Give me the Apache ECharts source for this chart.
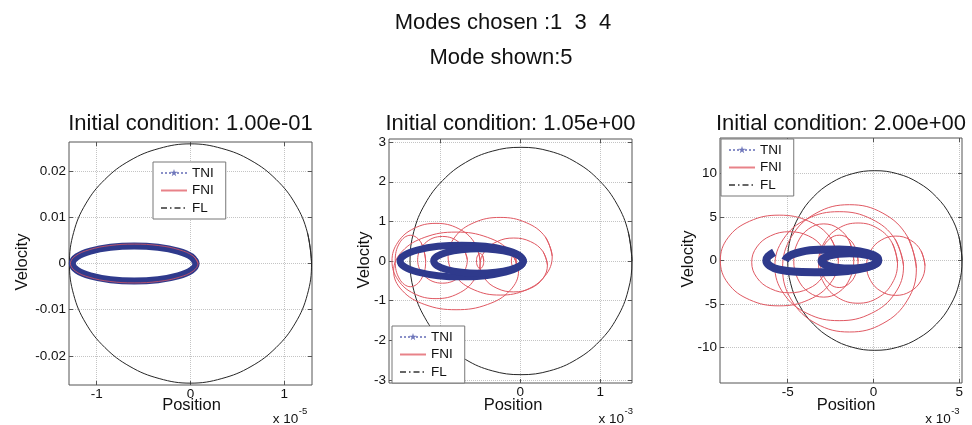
<!DOCTYPE html>
<html><head><meta charset="utf-8">
<script src="https://cdn.jsdelivr.net/npm/echarts@6/dist/echarts.min.js"></script>
<style>html,body{margin:0;padding:0;background:#fff}#c{width:972px;height:425px}</style>
</head><body><div id="c"></div>
<script>
// ---------------- DATA (x in units of 1e-5 / 1e-3 as shown on the axes) ----------------
const suptitleLines = ['Modes chosen :1  3  4', 'Mode shown:5'];
const panelTitles = ['Initial condition: 1.00e-01', 'Initial condition: 1.05e+00', 'Initial condition: 2.00e+00'];
const xExponents = ['-5', '-3', '-3'];
const legendNames = ['TNI', 'FNI', 'FL'];

// axis ranges
const p1XRange = [-1.295, 1.295], p1YRange = [-0.0263, 0.0263];
const p2XRange = [-1.6375, 1.396], p2YRange = [-3.08, 3.08];
const p3XRange = [-8.95, 5.16],  p3YRange = [-14.05, 14.05];
// ticks and labels
const p1XTicks = [-1, 0, 1], p1XLabels = [-1, 0, 1];
const p1YTicks = [-0.02, -0.01, 0, 0.01, 0.02];
const p2XTicks = [-1, 0, 1], p2XLabels = [0, 1];
const p2YTicks = [-3, -2, -1, 0, 1, 2, 3];
const p3XTicks = [-5, 0, 5], p3XLabels = [-5, 0, 5];
const p3YTicks = [-10, -5, 0, 5, 10];

// Panel 1
const p1Circle = [[1.29,0],[1.246,0.0067],[1.117,0.0129],[0.912,0.0182],[0.645,0.0223],[0.334,0.0249],[0,0.0259],[-0.334,0.0249],[-0.645,0.0223],[-0.912,0.0182],[-1.117,0.0129],[-1.246,0.0067],[-1.29,0],[-1.246,-0.0067],[-1.117,-0.0129],[-0.912,-0.0182],[-0.645,-0.0223],[-0.334,-0.0249],[0,-0.0259],[0.334,-0.0249],[0.645,-0.0223],[0.912,-0.0182],[1.117,-0.0129],[1.246,-0.0067],[1.29,0],[1.246,0.0067]];
const p1TNI = [[0.06,0],[0.01,0.00146],[-0.133,0.00269],[-0.347,0.00351],[-0.6,0.0038],[-0.853,0.00351],[-1.067,0.00269],[-1.21,0.00146],[-1.26,0],[-1.21,-0.00146],[-1.067,-0.00269],[-0.853,-0.00351],[-0.6,-0.0038],[-0.347,-0.00351],[-0.133,-0.00269],[0.01,-0.00146],[0.06,0],[0.01,0.00146]];
const p1FNI = [[0.08,0],[0.029,0.00161],[-0.12,0.00297],[-0.34,0.00388],[-0.6,0.0042],[-0.86,0.00388],[-1.08,0.00297],[-1.229,0.00161],[-1.28,0],[-1.229,-0.00161],[-1.08,-0.00297],[-0.86,-0.00388],[-0.6,-0.0042],[-0.34,-0.00388],[-0.12,-0.00297],[0.029,-0.00161],[0.08,0],[0.029,0.00161]];

// Panel 2
const p2Circle = [[1.395,0],[1.348,0.743],[1.209,1.435],[0.989,2.029],[0.703,2.485],[0.369,2.772],[0.01,2.87],[-0.349,2.772],[-0.683,2.485],[-0.969,2.029],[-1.189,1.435],[-1.328,0.743],[-1.375,0],[-1.328,-0.743],[-1.189,-1.435],[-0.969,-2.029],[-0.683,-2.485],[-0.349,-2.772],[0.01,-2.87],[0.369,-2.772],[0.703,-2.485],[0.989,-2.029],[1.209,-1.435],[1.348,-0.743],[1.395,0],[1.348,0.743]];
const p2TNIOuter = [[0.04,0],[-0.019,0.153],[-0.186,0.283],[-0.435,0.37],[-0.73,0.4],[-1.025,0.37],[-1.274,0.283],[-1.441,0.153],[-1.5,0],[-1.441,-0.153],[-1.274,-0.283],[-1.025,-0.37],[-0.73,-0.4],[-0.435,-0.37],[-0.186,-0.283],[-0.019,-0.153],[0.04,0],[-0.019,0.153]];
const p2TNIInner = [[0.04,0],[-0.003,0.119],[-0.124,0.219],[-0.306,0.286],[-0.52,0.31],[-0.734,0.286],[-0.916,0.219],[-1.037,0.119],[-1.08,0],[-1.037,-0.119],[-0.916,-0.219],[-0.734,-0.286],[-0.52,-0.31],[-0.306,-0.286],[-0.124,-0.219],[-0.003,-0.119],[0.04,0],[-0.003,0.119]];
const p2FNILoopA = [[0.40,0.12],[0.313,0.61],[0.075,0.969],[-0.25,1.10],[-0.575,0.969],[-0.813,0.61],[-0.90,0.12],[-0.813,-0.37],[-0.575,-0.729],[-0.25,-0.86],[0.075,-0.729],[0.313,-0.37],[0.40,0.12],[0.313,0.61]];
const p2FNILoopB = [[-0.02,-0.25],[-0.125,0.24],[-0.41,0.599],[-0.8,0.73],[-1.19,0.599],[-1.475,0.24],[-1.58,-0.25],[-1.475,-0.74],[-1.19,-1.099],[-0.8,-1.23],[-0.41,-1.099],[-0.125,-0.74],[-0.02,-0.25],[-0.125,0.24]];
const p2FNILoopC = [[-0.5,0],[-0.574,0.475],[-0.775,0.823],[-1.05,0.95],[-1.325,0.823],[-1.526,0.475],[-1.6,0],[-1.526,-0.475],[-1.325,-0.823],[-1.05,-0.95],[-0.775,-0.823],[-0.574,-0.475],[-0.5,0],[-0.574,0.475]];
const p2FNILoopD = [[-1.18,0],[-1.236,0.46],[-1.37,0.65],[-1.504,0.46],[-1.56,0],[-1.504,-0.46],[-1.37,-0.65],[-1.236,-0.46],[-1.18,0],[-1.236,0.46]];
const p2FNILoopE = [[-0.66,0.03],[-0.751,0.447],[-0.97,0.62],[-1.189,0.447],[-1.28,0.03],[-1.189,-0.387],[-0.97,-0.56],[-0.751,-0.387],[-0.66,0.03],[-0.751,0.447]];
const p2FNILoopF = [[-0.455,0],[-0.468,0.134],[-0.5,0.19],[-0.532,0.134],[-0.545,0],[-0.532,-0.134],[-0.5,-0.19],[-0.468,-0.134],[-0.455,0],[-0.468,0.134]];
const p2FNILoopG = [[-0.05,0],[-0.059,0.106],[-0.08,0.15],[-0.101,0.106],[-0.11,0],[-0.101,-0.106],[-0.08,-0.15],[-0.059,-0.106],[-0.05,0],[-0.059,0.106]];
const p2FNILoopH = [[0.34,-0.1],[0.284,0.24],[0.13,0.489],[-0.08,0.58],[-0.29,0.489],[-0.444,0.24],[-0.5,-0.1],[-0.444,-0.44],[-0.29,-0.689],[-0.08,-0.78],[0.13,-0.689],[0.284,-0.44],[0.34,-0.1],[0.284,0.24]];

// Panel 3
const p3Circle = [[5.16,0],[4.987,2.668],[4.479,5.15],[3.672,7.282],[2.62,8.92],[1.396,9.95],[0.08,10.3],[-1.236,9.95],[-2.46,8.92],[-3.512,7.282],[-4.319,5.15],[-4.827,2.668],[-5.0,0],[-4.827,-2.668],[-4.319,-5.15],[-3.512,-7.282],[-2.46,-8.92],[-1.236,-9.95],[0.08,-10.3],[1.396,-9.95],[2.62,-8.92],[3.672,-7.282],[4.479,-5.15],[4.987,-2.668],[5.16,0],[4.987,2.668]];
const p3TNIOuter = [[-5.8,0.95],[-6.15,0.45],[-6.25,0],[-6.05,-0.6],[-5.5,-1.05],[-4.5,-1.3],[-3.0,-1.35],[-1.5,-1.2],[-0.4,-0.8],[0.2,-0.3],[0.28,0.1],[0.0,0.6],[-0.8,1.05],[-2.0,1.25],[-3.5,1.2],[-4.5,0.85],[-5.0,0.4],[-5.15,0.0]];
const p3TNIInner = [[0.23,-0.05],[0.106,0.287],[-0.248,0.572],[-0.776,0.763],[-1.4,0.83],[-2.024,0.763],[-2.552,0.572],[-2.906,0.287],[-3.03,-0.05],[-2.906,-0.387],[-2.552,-0.672],[-2.024,-0.863],[-1.4,-0.93],[-0.776,-0.863],[-0.248,-0.672],[0.106,-0.387],[0.23,-0.05],[0.106,0.287]];
const p3FNILoopA = [[-2.05,0],[-2.512,2.6],[-3.775,4.503],[-5.5,5.2],[-7.225,4.503],[-8.488,2.6],[-8.93,0],[-8.488,-2.6],[-7.225,-4.503],[-5.5,-5.2],[-3.775,-4.503],[-2.512,-2.6],[-2.05,0],[-2.512,2.6]];
const p3FNILoopB = [[-2.7,-0.2],[-2.995,1.55],[-3.8,2.831],[-4.9,3.3],[-6.0,2.831],[-6.805,1.55],[-7.1,-0.2],[-6.805,-1.95],[-6.0,-3.231],[-4.9,-3.7],[-3.8,-3.231],[-2.995,-1.95],[-2.7,-0.2],[-2.995,1.55]];
const p3FNILoopC = [[-1.15,0],[-1.384,2.1],[-2.025,3.637],[-2.9,4.2],[-3.775,3.637],[-4.416,2.1],[-4.65,0],[-4.416,-2.1],[-3.775,-3.637],[-2.9,-4.2],[-2.025,-3.637],[-1.384,-2.1],[-1.15,0],[-1.384,2.1]];
const p3FNILoopD = [[-0.9,-0.1],[-1.047,1.4],[-1.45,2.498],[-2.0,2.9],[-2.55,2.498],[-2.953,1.4],[-3.1,-0.1],[-2.953,-1.6],[-2.55,-2.698],[-2.0,-3.1],[-1.45,-2.698],[-1.047,-1.6],[-0.9,-0.1],[-1.047,1.4]];
const p3FNILoopE = [[1.4,-0.3],[1.092,2.0],[0.25,3.684],[-0.9,4.3],[-2.05,3.684],[-2.892,2.0],[-3.2,-0.3],[-2.892,-2.6],[-2.05,-4.284],[-0.9,-4.9],[0.25,-4.284],[1.092,-2.6],[1.4,-0.3],[1.092,2.0]];
const p3FNILoopF = [[1.75,-0.65],[1.248,2.475],[-0.125,4.763],[-2.0,5.6],[-3.875,4.763],[-5.248,2.475],[-5.75,-0.65],[-5.248,-3.775],[-3.875,-6.063],[-2.0,-6.9],[-0.125,-6.063],[1.248,-3.775],[1.75,-0.65],[1.248,2.475]];
const p3FNILoopG = [[2.5,-0.9],[1.977,2.75],[0.55,5.422],[-1.4,6.4],[-3.35,5.422],[-4.777,2.75],[-5.3,-0.9],[-4.777,-4.55],[-3.35,-7.222],[-1.4,-8.2],[0.55,-7.222],[1.977,-4.55],[2.5,-0.9],[1.977,2.75]];
const p3FNILoopH = [[3.0,-0.6],[2.772,1.1],[2.15,2.344],[1.3,2.8],[0.45,2.344],[-0.172,1.1],[-0.4,-0.6],[-0.172,-2.3],[0.45,-3.544],[1.3,-4.0],[2.15,-3.544],[2.772,-2.3],[3.0,-0.6],[2.772,1.1]];

// ---------------- STYLE / LAYOUT ----------------
const FONT = '"Liberation Sans", Arial, Helvetica, sans-serif';
const BLUE = '#2f3a8c', RED = '#e05862', BLACK = '#262626';
// star glyph, padded with empty move-to points so it draws small inside the legend icon box
const STAR = 'path://M-22,-22 M122,122 M50,0 L61,35 L98,35 L68,57 L79,91 L50,70 L21,91 L32,57 L2,35 L39,35 Z';
const grids = [
  {left: 69, top: 142, width: 243, height: 243},
  {left: 389, top: 139, width: 243, height: 244},
  {left: 720, top: 138, width: 242, height: 245}
];
const legendPos = [{left: 153, top: 162}, {left: 392, top: 326}, {left: 721, top: 139}];

function xAxis(gi, range, ticks, labels, top) {
  return {
    type: 'value', gridIndex: gi, position: top ? 'top' : 'bottom', min: range[0], max: range[1],
    axisLine: {show: false, onZero: false},
    axisTick: {show: true, inside: true, length: 4, customValues: ticks, lineStyle: {color: '#555'}},
    axisLabel: top ? {show: false} : {show: true, customValues: labels, margin: 2, fontSize: 13.5,
      fontFamily: FONT, color: '#111', formatter: v => String(v)},
    splitLine: {show: !top, lineStyle: {color: '#c4c4c4', type: 'dotted', width: 1}}
  };
}
function yAxis(gi, range, ticks, labels, right) {
  return {
    type: 'value', gridIndex: gi, position: right ? 'right' : 'left', min: range[0], max: range[1],
    axisLine: {show: false, onZero: false},
    axisTick: {show: true, inside: true, length: 4, customValues: ticks, lineStyle: {color: '#555'}},
    axisLabel: right ? {show: false} : {show: true, customValues: labels, margin: 3, fontSize: 13.5,
      fontFamily: FONT, color: '#111', formatter: v => String(v)},
    splitLine: {show: !right, lineStyle: {color: '#c4c4c4', type: 'dotted', width: 1}}
  };
}
function path(name, data, gi, color, width, extra) {
  return Object.assign({
    type: 'line', name: name, data: data, xAxisIndex: gi, yAxisIndex: gi,
    smooth: 0.4, symbol: 'none', showSymbol: false, animation: false, silent: true,
    lineStyle: {color: color, width: width}, itemStyle: {color: color}
  }, extra || {});
}

const series = [];
// legend entry series (no marks of their own)
series.push({type: 'line', name: 'TNI', data: [], xAxisIndex: 0, yAxisIndex: 0, symbol: STAR, symbolSize: 8,
  lineStyle: {color: '#8a90c8', width: 1, type: 'dotted'}, itemStyle: {color: '#6f77bb'}, animation: false});
series.push({type: 'line', name: 'FL', data: [], xAxisIndex: 0, yAxisIndex: 0, symbol: 'none',
  lineStyle: {color: '#666', width: 1, type: [6, 3, 1.5, 3]}, itemStyle: {color: '#666'}, animation: false});
// panel 1
series.push(path('circle1', p1Circle, 0, BLACK, 1));
series.push(path('TNI band 1', p1TNI, 0, BLUE, 7));
series.push(path('FNI', p1FNI, 0, RED, 1, {lineStyle: {color: RED, width: 1, opacity: 0.75}}));
// panel 2
series.push(path('circle2', p2Circle, 1, BLACK, 1));
[p2FNILoopA, p2FNILoopB, p2FNILoopC, p2FNILoopD, p2FNILoopE, p2FNILoopF, p2FNILoopG, p2FNILoopH]
  .forEach(d => series.push(path('FNI', d, 1, RED, 1)));
series.push(path('TNI band 2a', p2TNIOuter, 1, BLUE, 7));
series.push(path('TNI band 2b', p2TNIInner, 1, BLUE, 7));
// panel 3
series.push(path('circle3', p3Circle, 2, BLACK, 1));
[p3FNILoopA, p3FNILoopB, p3FNILoopC, p3FNILoopD, p3FNILoopE, p3FNILoopF, p3FNILoopG, p3FNILoopH]
  .forEach(d => series.push(path('FNI', d, 2, RED, 1)));
series.push(path('TNI band 3a', p3TNIOuter, 2, BLUE, 8));
series.push(path('TNI band 3b', p3TNIInner, 2, BLUE, 8));

function txt(x, y, text, size, opts) {
  const o = opts || {};
  return {type: 'text', x: x, y: y, rotation: o.rot || 0, silent: true, z: 100,
    style: {text: text, fontSize: size, fontFamily: FONT, fill: '#111',
      align: o.align || 'center', verticalAlign: 'middle',
      textAlign: o.align || 'center', textVerticalAlign: 'middle'}};
}
const graphic = [
  txt(503, 23, suptitleLines[0], 22),
  txt(501, 58, suptitleLines[1], 22),
  txt(190.5, 124, panelTitles[0], 22),
  txt(510.5, 124, panelTitles[1], 22),
  txt(841, 124, panelTitles[2], 22),
  txt(22, 262, 'Velocity', 16.5, {rot: Math.PI / 2}),
  txt(364, 260, 'Velocity', 16.5, {rot: Math.PI / 2}),
  txt(688, 259, 'Velocity', 16.5, {rot: Math.PI / 2}),
  txt(191.5, 405.5, 'Position', 16.5),
  txt(513, 405.5, 'Position', 16.5),
  txt(846, 405.5, 'Position', 16.5),
  txt(298.3, 419, 'x 10', 13.5, {align: 'right'}),
  txt(624, 419, 'x 10', 13.5, {align: 'right'}),
  txt(950.7, 419, 'x 10', 13.5, {align: 'right'}),
  txt(298.8, 411, xExponents[0], 9.5, {align: 'left'}),
  txt(624.5, 411, xExponents[1], 9.5, {align: 'left'}),
  txt(951.2, 411, xExponents[2], 9.5, {align: 'left'})
];

const legendData = [
  {name: legendNames[0]},
  {name: legendNames[1], itemStyle: {opacity: 0}},
  {name: legendNames[2], itemStyle: {opacity: 0}}
];

const option = {
  backgroundColor: '#fff',
  animation: false,
  grid: grids.map(g => Object.assign({show: true, borderColor: '#555', borderWidth: 1, backgroundColor: 'transparent', containLabel: false}, g)),
  xAxis: [
    xAxis(0, p1XRange, p1XTicks, p1XLabels), xAxis(1, p2XRange, p2XTicks, p2XLabels), xAxis(2, p3XRange, p3XTicks, p3XLabels),
    xAxis(0, p1XRange, p1XTicks, null, true), xAxis(1, p2XRange, p2XTicks, null, true), xAxis(2, p3XRange, p3XTicks, null, true)
  ],
  yAxis: [
    yAxis(0, p1YRange, p1YTicks, p1YTicks), yAxis(1, p2YRange, p2YTicks, p2YTicks), yAxis(2, p3YRange, p3YTicks, p3YTicks),
    yAxis(0, p1YRange, p1YTicks, null, true), yAxis(1, p2YRange, p2YTicks, null, true), yAxis(2, p3YRange, p3YTicks, null, true)
  ],
  legend: legendPos.map(p => ({
    data: legendData, orient: 'vertical', left: p.left, top: p.top,
    itemWidth: 26, itemHeight: 14, itemGap: 3.5, padding: [4, 12, 4, 7],
    borderColor: '#777', borderWidth: 1, backgroundColor: '#fff', borderRadius: 0,
    selectedMode: false, textStyle: {fontFamily: FONT, fontSize: 13.5, color: '#111'}, z: 10
  })),
  series: series,
  graphic: graphic
};
const chart = echarts.init(document.getElementById('c'), null, {renderer: 'canvas'});
chart.setOption(option);
</script>
</body></html>
